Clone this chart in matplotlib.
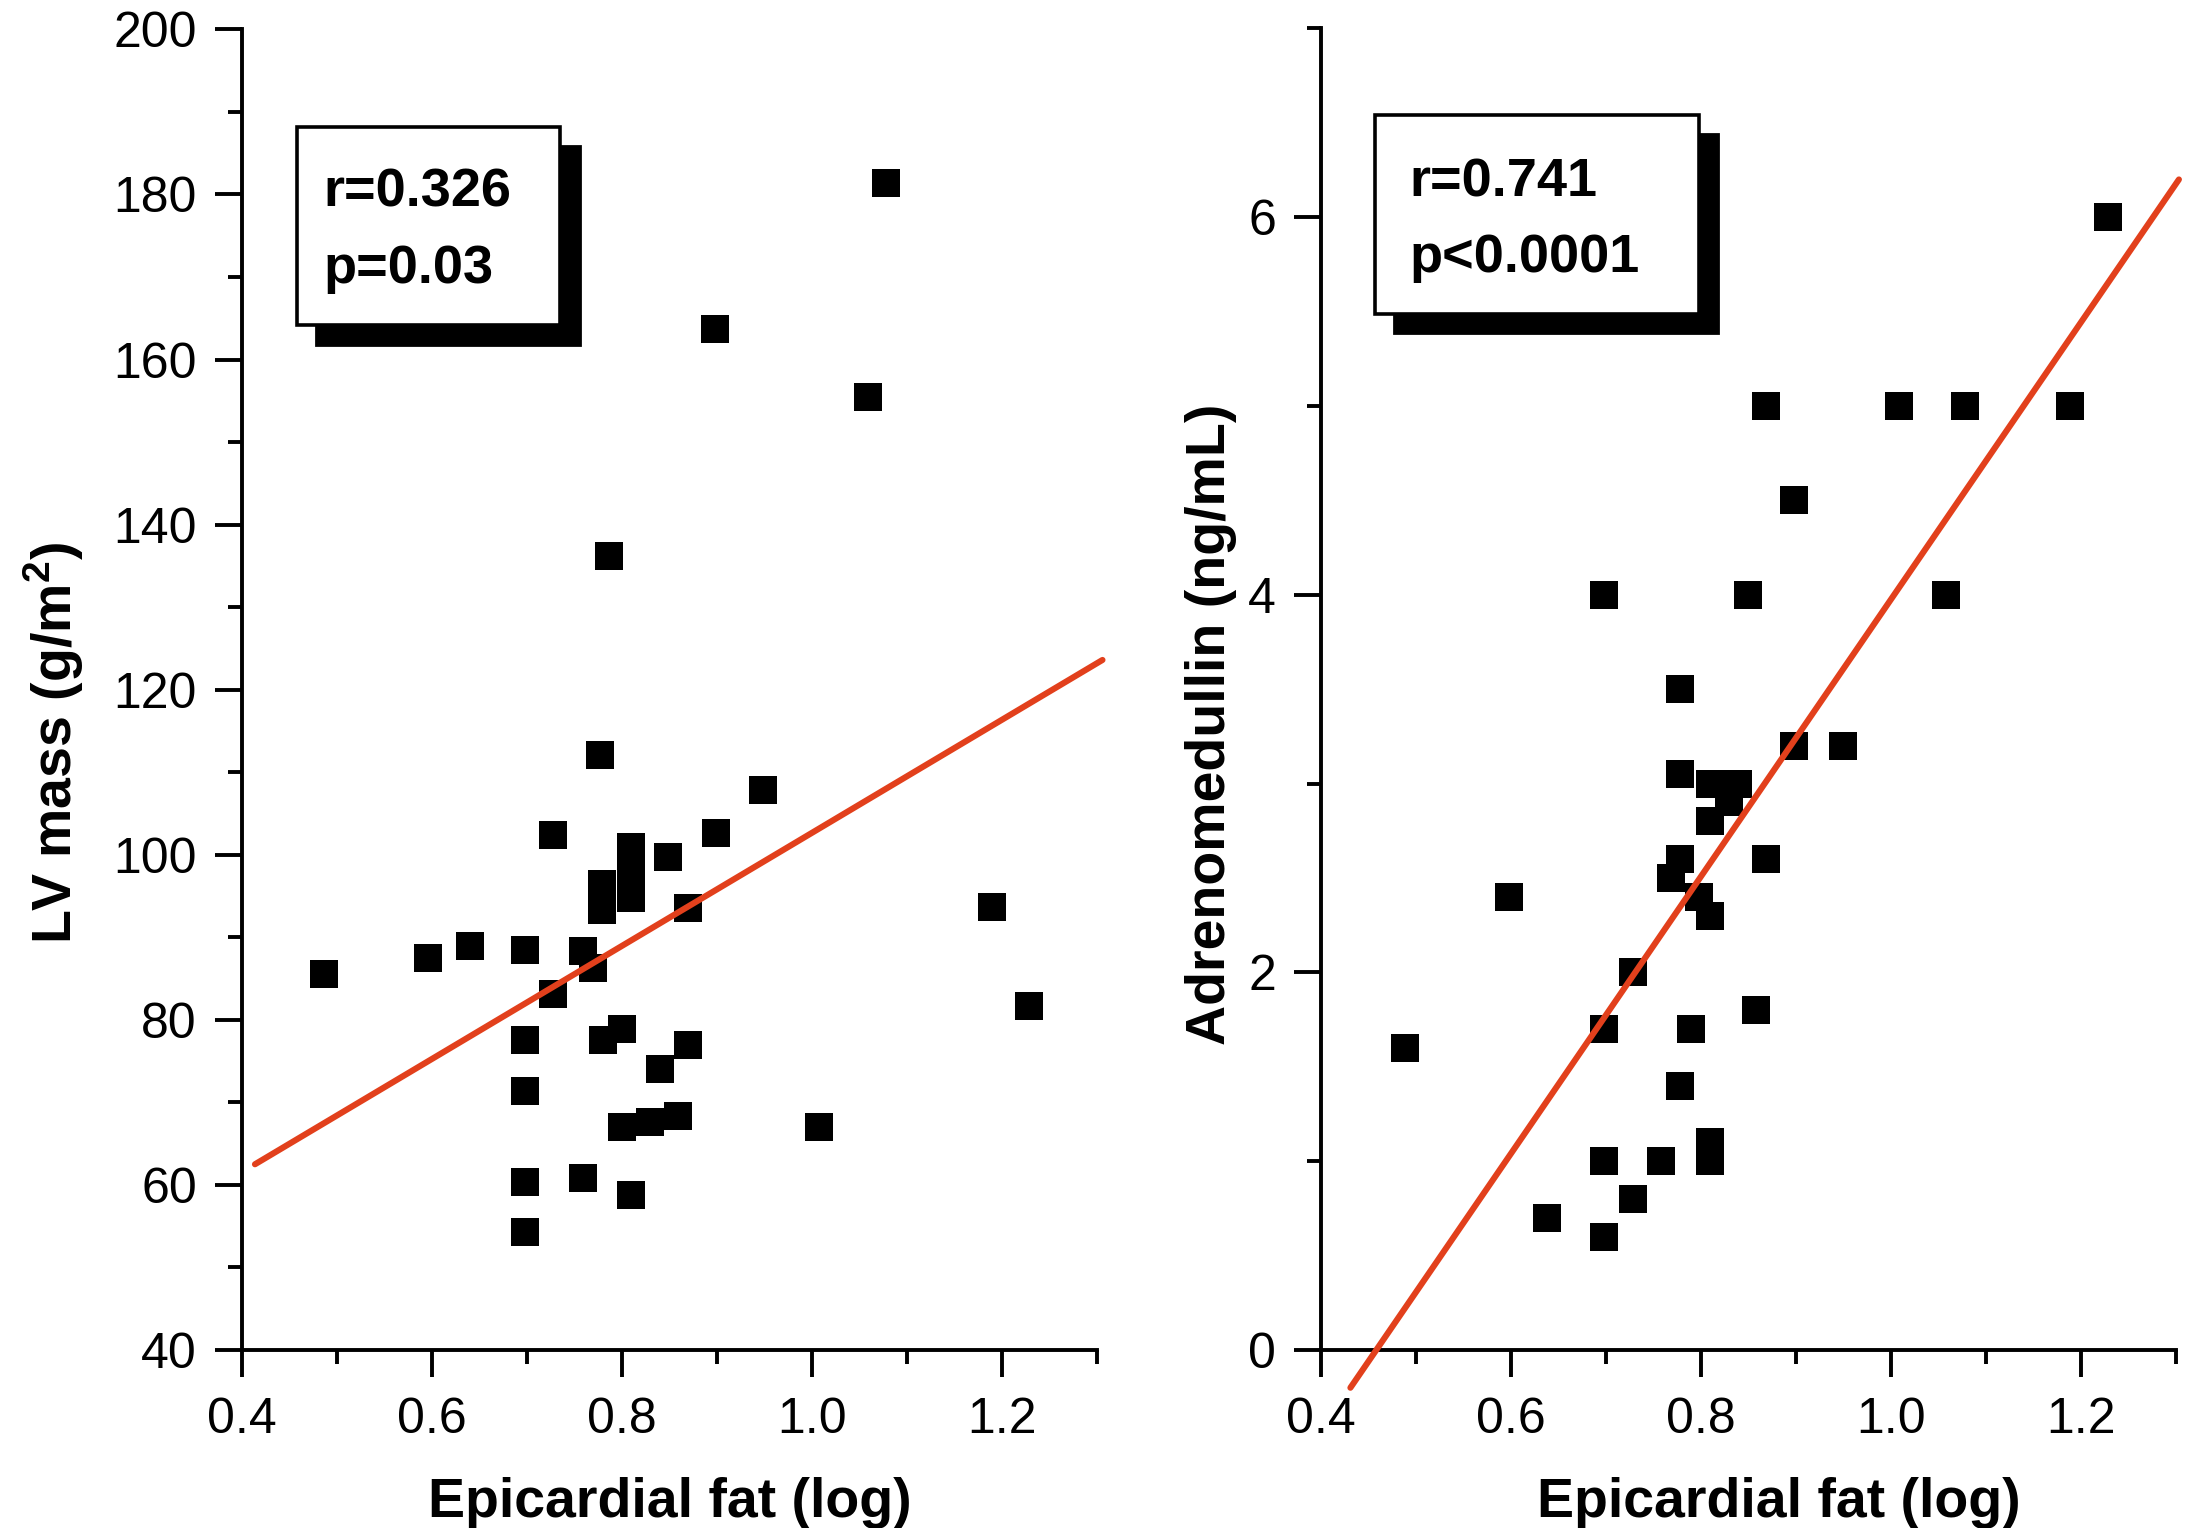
import numpy as np
import matplotlib.pyplot as plt
from matplotlib.patches import Rectangle
from matplotlib.ticker import MultipleLocator

plt.rcParams['font.family'] = ['Liberation Sans', 'DejaVu Sans']
plt.rcParams['mathtext.fontset'] = 'custom'
plt.rcParams['mathtext.rm'] = 'Liberation Sans'
plt.rcParams['mathtext.bf'] = 'Liberation Sans:bold'

# left panel: epicardial fat vs LV mass
lv_x = [0.487, 0.596, 0.640, 0.698, 0.698, 0.698, 0.698, 0.698, 0.728, 0.728,
        0.759, 0.770, 0.759, 0.810, 0.779, 0.779, 0.810, 0.810, 0.810, 0.849,
        0.899, 0.870, 0.800, 0.780, 0.870, 0.840, 0.800, 0.830, 0.859, 0.949,
        0.787, 0.777, 0.898, 1.059, 1.078, 1.008, 1.190, 1.229]
lv_y = [85.5, 87.5, 89.0, 88.4, 77.6, 71.4, 60.3, 54.3, 102.4, 83.1,
        88.3, 86.3, 60.8, 58.8, 96.4, 93.3, 100.9, 97.8, 94.7, 99.7,
        102.6, 93.5, 78.9, 77.6, 76.9, 74.1, 67.0, 67.6, 68.4, 107.8,
        136.2, 112.1, 163.7, 155.4, 181.4, 67.0, 93.7, 81.7]
lv_fit_x = [0.414, 1.306]
lv_fit_y = [62.5, 123.6]

# right panel: epicardial fat vs adrenomedullin
adm_x = [0.488, 0.598, 0.638, 0.698, 0.698, 0.698, 0.698, 0.728, 0.728, 0.758,
         0.778, 0.778, 0.778, 0.768, 0.778, 0.789, 0.798, 0.809, 0.809, 0.809,
         0.809, 0.809, 0.839, 0.829, 0.849, 0.858, 0.868, 0.868, 0.898, 0.898,
         0.949, 1.008, 1.078, 1.058, 1.188, 1.228]
adm_y = [1.60, 2.40, 0.70, 4.00, 1.70, 1.00, 0.60, 2.00, 0.80, 1.00,
         3.50, 3.05, 2.60, 2.50, 1.40, 1.70, 2.40, 2.30, 2.80, 1.10,
         1.00, 3.00, 3.00, 2.90, 4.00, 1.80, 5.00, 2.60, 4.50, 3.20,
         3.20, 5.00, 5.00, 4.00, 5.00, 6.00]
adm_fit_x = [0.431, 1.303]
adm_fit_y = [-0.20, 6.20]

x_ticks = [0.4, 0.6, 0.8, 1.0, 1.2]
x_ticklabels = ['0.4', '0.6', '0.8', '1.0', '1.2']
lv_ticks = [40, 60, 80, 100, 120, 140, 160, 180, 200]
adm_ticks = [0, 2, 4, 6]

stats_lv = ['r=0.326', 'p=0.03']
stats_adm = ['r=0.741', 'p<0.0001']

red = '#e2401c'

fig = plt.figure(figsize=(10.935, 7.64), dpi=200)
ax1 = fig.add_axes([0.1105, 0.1165, 0.391, 0.8643])
ax2 = fig.add_axes([0.604, 0.1165, 0.391, 0.8649])


def style(ax, yticks, ymin, ymax, yminor):
    for s in ['top', 'right']:
        ax.spines[s].set_visible(False)
    for s in ['left', 'bottom']:
        ax.spines[s].set_linewidth(1.4)
    ax.set_xlim(0.4, 1.3)
    ax.set_ylim(ymin, ymax)
    ax.set_xticks(x_ticks)
    ax.set_xticklabels(x_ticklabels)
    ax.set_yticks(yticks)
    ax.xaxis.set_minor_locator(MultipleLocator(0.1))
    ax.yaxis.set_minor_locator(MultipleLocator(yminor))
    ax.tick_params(which='major', direction='out', length=9.6, width=1.4,
                   labelsize=18)
    ax.tick_params(which='minor', direction='out', length=5, width=1.4)
    ax.tick_params(axis='x', which='major', pad=7.5)
    ax.tick_params(axis='y', which='major', pad=6.5)


style(ax1, lv_ticks, 40, 200, 10)
style(ax2, adm_ticks, 0, 7, 1)

ax1.plot(lv_x, lv_y, 's', color='black', markersize=10.3, markeredgewidth=0,
         zorder=3)
ax1.plot(lv_fit_x, lv_fit_y, color=red, linewidth=2.2, solid_capstyle='round',
         clip_on=False, zorder=4)

ax2.plot(adm_x, adm_y, 's', color='black', markersize=10.3, markeredgewidth=0,
         zorder=3)
ax2.plot(adm_fit_x, adm_fit_y, color=red, linewidth=2.2, solid_capstyle='round',
         clip_on=False, zorder=4)

# axis labels
fig.text(0.3063, 0.0074, 'Epicardial fat (log)', ha='center', va='baseline',
         fontsize=20, fontweight='bold')
fig.text(0.8134, 0.0074, 'Epicardial fat (log)', ha='center', va='baseline',
         fontsize=20, fontweight='bold')
fig.text(0.0247, 0.5137, r'LV mass (g/m$^{\mathbf{2}}$)', rotation=90, ha='center',
         va='center', fontsize=20, fontweight='bold')
fig.text(0.5536, 0.526, 'Adrenomedullin (ng/mL)', rotation=90, ha='center',
         va='center', fontsize=20, fontweight='bold')

# stat boxes with drop shadow
dx, dy = 0.0089, -0.0128
for (bx, by, bw, bh) in [(0.1358, 0.7873, 0.1203, 0.1298),
                         (0.6287, 0.7946, 0.1481, 0.1303)]:
    fig.add_artist(Rectangle((bx + dx, by + dy), bw, bh, transform=fig.transFigure,
                             facecolor='black', edgecolor='black', zorder=5))
    fig.add_artist(Rectangle((bx, by), bw, bh, transform=fig.transFigure,
                             facecolor='white', edgecolor='black', linewidth=1.3,
                             zorder=6))

fig.text(0.148, 0.8647, stats_lv[0], fontsize=19.5, fontweight='bold',
         va='baseline', zorder=7)
fig.text(0.148, 0.8148, stats_lv[1], fontsize=19.5, fontweight='bold',
         va='baseline', zorder=7)
fig.text(0.6445, 0.8717, stats_adm[0], fontsize=19.5, fontweight='bold',
         va='baseline', zorder=7)
fig.text(0.6445, 0.8217, stats_adm[1], fontsize=19.5, fontweight='bold',
         va='baseline', zorder=7)

fig.savefig('out.png', dpi=200, facecolor='white')
